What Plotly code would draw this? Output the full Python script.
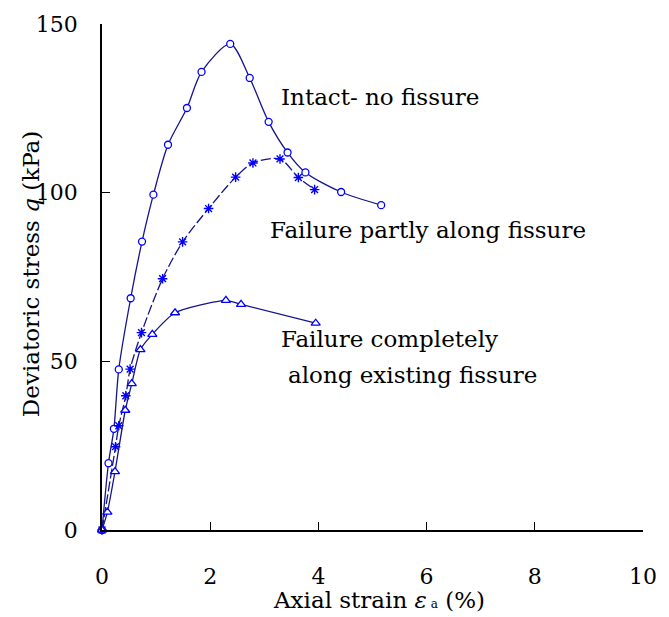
import plotly.graph_objects as go

# Intact - no fissure (circles)
intact_x = [0, 0.12, 0.22, 0.31, 0.53, 0.74, 0.95, 1.22, 1.57, 1.84, 2.37, 2.73, 3.08, 3.43, 3.76, 4.42, 5.16]
intact_y = [0, 19.8, 30.0, 47.6, 68.7, 85.5, 99.4, 114.2, 125.1, 135.8, 144.1, 134.0, 121.0, 111.9, 106.0, 100.2, 96.3]

# Failure partly along fissure (asterisks)
partly_x = [0, 0.25, 0.31, 0.44, 0.52, 0.73, 1.12, 1.49, 1.97, 2.47, 2.79, 3.29, 3.63, 3.93]
partly_y = [0, 24.7, 30.9, 39.8, 47.7, 58.5, 74.5, 85.4, 95.3, 104.6, 108.8, 110.0, 104.5, 100.9]

# Failure completely along existing fissure (triangles)
complete_x = [0, 0.10, 0.24, 0.43, 0.55, 0.71, 0.93, 1.35, 2.29, 2.57, 3.95]
complete_y = [0, 5.3, 17.3, 35.5, 43.4, 53.5, 58.0, 64.4, 68.1, 66.9, 61.3]

x_ticks = [0, 2, 4, 6, 8, 10]
y_ticks = [0, 50, 100, 150]

LINE = "#14148c"
MARK = "#0000ff"
FONT = "DejaVu Serif"
TXT = 23
TICK = 22

fig = go.Figure()
fig.add_trace(go.Scatter(
    x=intact_x, y=intact_y, mode="lines+markers", cliponaxis=False,
    line=dict(color=LINE, width=1.3, shape="spline", smoothing=0.8),
    marker=dict(symbol="circle", size=7, color="white", line=dict(color=MARK, width=1.3)),
))
fig.add_trace(go.Scatter(
    x=partly_x, y=partly_y, mode="lines+markers", cliponaxis=False,
    line=dict(color=LINE, width=1.3, shape="spline", smoothing=0.8, dash="10px,3px"),
    marker=dict(symbol="asterisk-open", size=8, color=MARK, line=dict(color=MARK, width=1.4)),
))
fig.add_trace(go.Scatter(
    x=complete_x, y=complete_y, mode="lines+markers", cliponaxis=False,
    line=dict(color=LINE, width=1.3, shape="spline", smoothing=0.6),
    marker=dict(symbol="triangle-up", size=8, color="white", line=dict(color=MARK, width=1.3)),
))

annots = [
    dict(text="Intact- no fissure", x=3.28, y=128.5, xanchor="left", yanchor="middle"),
    dict(text="Failure partly along fissure", x=3.07, y=89.0, xanchor="left", yanchor="middle"),
    dict(text="Failure completely", x=3.28, y=56.5, xanchor="left", yanchor="middle"),
    dict(text="along existing fissure", x=3.40, y=46.0, xanchor="left", yanchor="middle"),
]
for a in annots:
    fig.add_annotation(xref="x", yref="y", showarrow=False,
                       font=dict(family=FONT, size=TXT, color="black"), **a)

fig.add_annotation(xref="paper", yref="paper", x=0.512, y=-0.138, xanchor="center", yanchor="middle",
                   text="Axial strain <i>ε</i><span style='font-size:12px'> a</span> (%)", showarrow=False,
                   font=dict(family=FONT, size=TXT, color="black"))
fig.add_annotation(xref="paper", yref="paper", x=-0.13, y=0.505, xanchor="center", yanchor="middle",
                   textangle=-90, text="Deviatoric stress <i>q</i> (kPa)", showarrow=False,
                   font=dict(family=FONT, size=TXT, color="black"))

fig.update_layout(
    width=669, height=617,
    margin=dict(l=102, r=15, t=23, b=87),
    paper_bgcolor="white", plot_bgcolor="white",
    showlegend=False,
    font=dict(family=FONT, size=TICK, color="black"),
)
fig.update_xaxes(range=[0, 10], tickvals=x_ticks, ticktext=[str(v) for v in x_ticks],
                 showgrid=False, zeroline=False, showline=True, linecolor="black", linewidth=1.5,
                 ticks="inside", ticklen=8, tickcolor="black", tickwidth=1.2, ticklabelstandoff=26,
                 ticklabeloverflow="allow",
                 tickfont=dict(family=FONT, size=TICK, color="black"))
fig.update_yaxes(range=[0, 150], tickvals=y_ticks, ticktext=[str(v) for v in y_ticks],
                 showgrid=False, zeroline=False, showline=True, linecolor="black", linewidth=1.5,
                 ticks="inside", ticklen=8, tickcolor="black", tickwidth=1.2, ticklabelstandoff=18,
                 ticklabeloverflow="allow",
                 tickfont=dict(family=FONT, size=TICK, color="black"))

fig.write_html("out.html")
